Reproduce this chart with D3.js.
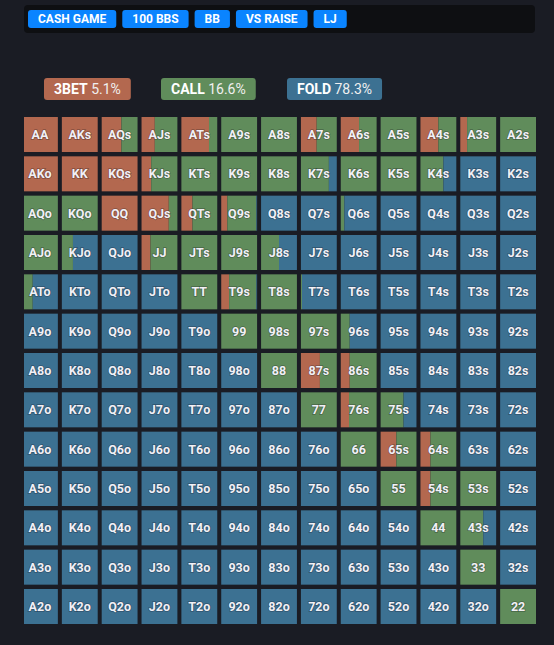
<!DOCTYPE html>
<html>
<head>
<meta charset="utf-8">
<script src="https://cdn.jsdelivr.net/npm/d3@7"></script>
<style>
  html, body { margin: 0; padding: 0; background: #1a1c24; }
  svg { display: block; font-family: Roboto, "Open Sans", sans-serif; }
</style>
</head>
<body>
<div id="chart"></div>
<script>
// ---- data ----
const ranks = ["A", "K", "Q", "J", "T", "9", "8", "7", "6", "5", "4", "3", "2"];
const tags = ["CASH GAME", "100 BBS", "BB", "VS RAISE", "LJ"];
const actions = ["3BET", "CALL", "FOLD"];
const actionTotals = ["5.1%", "16.6%", "78.3%"];

// percent of each hand that 3bets, row = first rank, col = second rank
const raisePct = [
  [100, 100, 55, 37, 77, 0, 0, 44, 51, 0, 50, 19, 0],
  [100, 100, 100, 27, 0, 0, 0, 0, 0, 0, 0, 0, 0],
  [0, 0, 100, 76, 31, 17, 0, 0, 0, 0, 0, 0, 0],
  [0, 0, 0, 25, 0, 0, 0, 0, 0, 0, 0, 0, 0],
  [0, 0, 0, 0, 0, 22, 0, 0, 0, 0, 0, 0, 0],
  [0, 0, 0, 0, 0, 0, 0, 0, 0, 0, 0, 0, 0],
  [0, 0, 0, 0, 0, 0, 0, 53, 25, 0, 0, 0, 0],
  [0, 0, 0, 0, 0, 0, 0, 0, 23, 0, 0, 0, 0],
  [0, 0, 0, 0, 0, 0, 0, 0, 0, 44, 28, 0, 0],
  [0, 0, 0, 0, 0, 0, 0, 0, 0, 0, 28, 0, 0],
  [0, 0, 0, 0, 0, 0, 0, 0, 0, 0, 0, 0, 0],
  [0, 0, 0, 0, 0, 0, 0, 0, 0, 0, 0, 0, 0],
  [0, 0, 0, 0, 0, 0, 0, 0, 0, 0, 0, 0, 0]
];
// percent that calls, the rest folds
const callPct = [
  [0, 0, 45, 63, 23, 100, 100, 56, 49, 100, 50, 81, 100],
  [0, 0, 0, 73, 100, 100, 100, 78, 100, 100, 64, 0, 0],
  [100, 100, 0, 24, 69, 81, 0, 0, 10, 0, 0, 0, 0],
  [100, 31, 0, 75, 100, 100, 50, 0, 0, 0, 0, 0, 0],
  [30, 0, 0, 0, 100, 76, 100, 3, 0, 0, 0, 0, 0],
  [0, 0, 0, 0, 0, 100, 100, 100, 25, 0, 0, 0, 0],
  [0, 0, 0, 0, 0, 0, 100, 47, 75, 0, 0, 0, 0],
  [0, 0, 0, 0, 0, 0, 0, 100, 77, 64, 0, 0, 0],
  [0, 0, 0, 0, 0, 0, 0, 0, 100, 56, 72, 0, 0],
  [0, 0, 0, 0, 0, 0, 0, 0, 0, 100, 72, 100, 0],
  [0, 0, 0, 0, 0, 0, 0, 0, 0, 0, 100, 64, 0],
  [0, 0, 0, 0, 0, 0, 0, 0, 0, 0, 0, 100, 0],
  [0, 0, 0, 0, 0, 0, 0, 0, 0, 0, 0, 0, 100]
];

// ---- drawing ----
const W = 554, H = 645;
const colors = { "3BET": "#b3684f", "CALL": "#608c5b", "FOLD": "#3c7192" };

const svg = d3.select("#chart").append("svg")
  .attr("width", W)
  .attr("height", H);

svg.append("rect").attr("width", W).attr("height", H).attr("fill", "#1a1c24");

// top tag bar
svg.append("rect")
  .attr("x", 24).attr("y", 5)
  .attr("width", 511).attr("height", 28)
  .attr("rx", 4)
  .attr("fill", "#0e0f12");

let tx = 28;
tags.forEach(function (t) {
  let g = svg.append("g").attr("transform", "translate(" + tx + ",10)");
  let txt = g.append("text")
    .attr("y", 9)
    .attr("dy", "0.36em")
    .attr("fill", "#ffffff")
    .attr("font-size", 12)
    .attr("font-weight", "bold")
    .text(t);
  let w = txt.node().getComputedTextLength() + 20;
  txt.attr("x", 10);
  g.insert("rect", "text")
    .attr("width", w).attr("height", 18)
    .attr("rx", 3)
    .attr("fill", "#0a84ff");
  tx += w + 6;
});

// legend boxes
const legendX = [44, 161, 287];
actions.forEach(function (a, i) {
  let g = svg.append("g").attr("transform", "translate(" + legendX[i] + ",78)");
  let txt = g.append("text")
    .attr("x", 10)
    .attr("y", 11)
    .attr("dy", "0.36em")
    .attr("fill", "#ffffff")
    .attr("font-size", 14);
  txt.append("tspan").attr("font-weight", "bold").text(a);
  txt.append("tspan").attr("fill", "#f0f0f0").text(" " + actionTotals[i]);
  let w = txt.node().getComputedTextLength() + 20;
  g.insert("rect", "text")
    .attr("width", w).attr("height", 22)
    .attr("rx", 3)
    .attr("fill", colors[a]);
});

// hand grid
const x = d3.scaleBand().domain(d3.range(13)).range([22, 536]).paddingInner(0.1);
const y = d3.scaleBand().domain(d3.range(13)).range([117, 624]).paddingInner(0.11);

svg.append("clipPath").attr("id", "gridclip")
  .append("rect").attr("x", 24).attr("y", 0).attr("width", W).attr("height", H);

let cells = [];
ranks.forEach(function (r1, i) {
  ranks.forEach(function (r2, j) {
    let label;
    if (i == j) label = r1 + r2;
    else if (j > i) label = r1 + r2 + "s";
    else label = r2 + r1 + "o";
    let raise = raisePct[i][j], call = callPct[i][j];
    cells.push({ row: i, col: j, label: label, raise: raise, call: call, fold: 100 - raise - call });
  });
});

const grid = svg.append("g").attr("clip-path", "url(#gridclip)");

let cellG = grid.selectAll(".cell")
  .data(cells)
  .enter()
  .append("g")
  .attr("class", "cell")
  .attr("transform", function (d) { return "translate(" + x(d.col) + "," + y(d.row) + ")"; });

cellG.each(function (d) {
  let g = d3.select(this);
  let frac = d3.scaleLinear().domain([0, 100]).range([0, x.bandwidth()]);
  let parts = [["3BET", d.raise], ["CALL", d.call], ["FOLD", d.fold]];
  let acc = 0;
  parts.forEach(function (p) {
    if (p[1] <= 0) return;
    g.append("rect")
      .attr("x", frac(acc))
      .attr("y", 0)
      .attr("width", frac(acc + p[1]) - frac(acc))
      .attr("height", y.bandwidth())
      .attr("fill", colors[p[0]]);
    acc += p[1];
  });
});

cellG.append("text")
  .attr("x", x.bandwidth() / 2)
  .attr("y", y.bandwidth() / 2)
  .attr("dy", "0.36em")
  .attr("text-anchor", "middle")
  .attr("font-size", 12.5)
  .attr("font-weight", "bold")
  .attr("fill", "#f1f0f6")
  .style("paint-order", "stroke")
  .attr("stroke", "rgba(20,20,30,0.35)")
  .attr("stroke-width", 1.5)
  .text(function (d) { return d.label; });
</script>
</body>
</html>
